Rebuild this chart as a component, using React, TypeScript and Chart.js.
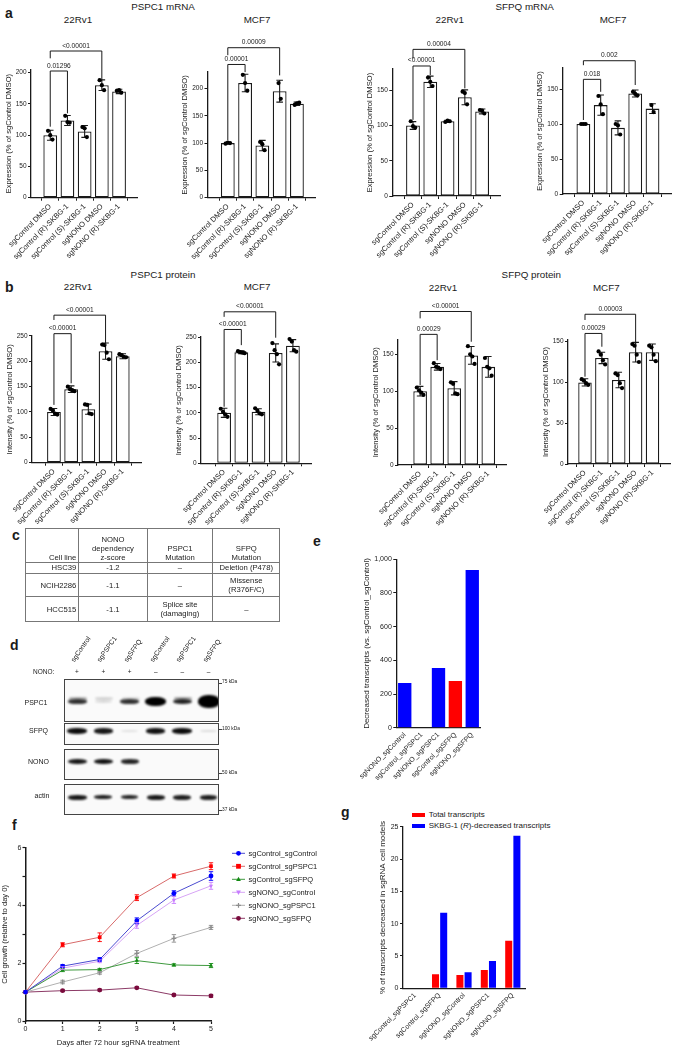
import React, { useEffect, useRef } from 'react';
import { Chart, registerables } from 'chart.js';

Chart.register(...registerables);

const FONT = '"Liberation Sans", Arial, Helvetica, sans-serif';
Chart.defaults.font.family = FONT;
Chart.defaults.color = '#1a1a1a';
const INK = '#1a1a1a';

/* ================= DATA ================= */
const treatmentLabels = ['sgControl DMSO', 'sgControl (R)-SKBG-1', 'sgControl (S)-SKBG-1', 'sgNONO DMSO', 'sgNONO (R)-SKBG-1'];

const ticks0to200 = [0, 50, 100, 150, 200];
const ticks0to250 = [0, 50, 100, 150, 200, 250];
const ticks0to150 = [0, 50, 100, 150];

// a: PSPC1 mRNA 22Rv1
const aPspc1Rv1Mean = [100, 123.5, 106, 180, 170];
const aPspc1Rv1Sd = [8, 8, 9.5, 8.5, 3.5];
const aPspc1Rv1Points = [[107, 100, 93], [131, 121, 120], [113, 111, 97], [188, 180, 172], [171, 172, 168]];
const aPspc1Rv1P = [
  { from: 0, to: 3, at: 234.7, legFrom: 223, legTo: 188, text: '<0.00001' },
  { from: 0, to: 1, at: 202.7, legFrom: 113.6, legTo: 135, text: '0.01296' },
];
// a: PSPC1 mRNA MCF7
const aPspc1McfMean = [100, 210, 95.5, 195, 172];
const aPspc1McfSd = [1.5, 16, 9.5, 20, 3];
const aPspc1McfPoints = [[99, 101, 100], [225, 210, 196], [102, 98, 87], [210, 181], [170, 173, 174]];
const aPspc1McfP = [
  { from: 0, to: 3, at: 274.7, legFrom: 261, legTo: 224, text: '0.00009' },
  { from: 0, to: 1, at: 244, legFrom: 105, legTo: 230, text: '0.00001' },
];
// a: SFPQ mRNA 22Rv1
const aSfpqRv1Mean = [100, 162, 106, 140, 120];
const aSfpqRv1Sd = [5.5, 8, 1.5, 10.5, 3.5];
const aSfpqRv1Points = [[106, 99, 97], [168, 162, 156], [105, 107, 106], [148, 146, 130], [122, 121, 117]];
const aSfpqRv1P = [
  { from: 0, to: 3, at: 208, legFrom: 195, legTo: 152.7, text: '0.00004' },
  { from: 0, to: 1, at: 184.4, legFrom: 108, legTo: 171.6, text: '<0.00001' },
];
// a: SFPQ mRNA MCF7
const aSfpqMcfMean = [100, 127, 94.5, 143.5, 122];
const aSfpqMcfSd = [1, 14.5, 10, 5, 7];
const aSfpqMcfPoints = [[100, 100, 100], [140, 128, 114], [100, 98, 85], [146, 143, 141], [127, 117]];
const aSfpqMcfP = [
  { from: 0, to: 3, at: 190.4, legFrom: 184, legTo: 155.7, text: '0.002' },
  { from: 0, to: 1, at: 163.8, legFrom: 105.7, legTo: 146, text: '0.018' },
];
// b: PSPC1 protein 22Rv1
const bPspc1Rv1Mean = [100, 145, 105.5, 220, 210];
const bPspc1Rv1Sd = [7, 6.5, 10, 16, 5];
const bPspc1Rv1Points = [[106, 103, 97, 95], [150, 145, 143, 141], [115, 114, 97, 96], [233, 232, 217, 204], [214, 212, 209, 208]];
const bPspc1Rv1P = [
  { from: 0, to: 3, at: 291, legFrom: 281.5, legTo: 232, text: '<0.00001' },
  { from: 0, to: 1, at: 254.5, legFrom: 114, legTo: 156.6, text: '<0.00001' },
];
// b: PSPC1 protein MCF7
const bPspc1McfMean = [100, 220, 102, 218.5, 233];
const bPspc1McfSd = [9, 3, 6, 18, 12];
const bPspc1McfPoints = [[108, 102, 97, 92], [222, 220, 219, 218], [109, 104, 99, 97], [238, 224, 216, 196], [246, 241, 224, 221]];
const bPspc1McfP = [
  { from: 0, to: 3, at: 300, legFrom: 290, legTo: 248.7, text: '<0.00001' },
  { from: 0, to: 1, at: 265, legFrom: 112, legTo: 234, text: '<0.00001' },
];
// b: SFPQ protein 22Rv1
const bSfpqRv1Mean = [100, 133, 104, 148.5, 133];
const bSfpqRv1Sd = [6.5, 4.5, 9, 12, 14];
const bSfpqRv1Points = [[105, 101, 98, 95], [138, 133, 132, 130], [112, 110, 97, 96], [161, 150, 147, 137], [145, 133, 131, 121]];
const bSfpqRv1P = [
  { from: 0, to: 3, at: 208, legFrom: 198.7, legTo: 167, text: '<0.00001' },
  { from: 0, to: 1, at: 177, legFrom: 108.4, legTo: 142, text: '0.00029' },
];
// b: SFPQ protein MCF7
const bSfpqMcfMean = [100, 130, 103, 137, 137];
const bSfpqMcfSd = [4.5, 7, 9.5, 12, 10];
const bSfpqMcfPoints = [[104, 102, 99, 97], [138, 134, 127, 122], [111, 109, 99, 93], [147, 145, 134, 125], [145, 143, 134, 126]];
const bSfpqMcfP = [
  { from: 0, to: 3, at: 183.5, legFrom: 176.5, legTo: 146, text: '0.00003' },
  { from: 0, to: 1, at: 160, legFrom: 107, legTo: 143.7, text: '0.00029' },
];

// c: table
const tableHeader = ['Cell line', 'NONO\ndependency\nz-score', 'PSPC1\nMutation', 'SFPQ\nMutation'];
const tableCellLines = ['HSC39', 'NCIH2286', 'HCC515'];
const tableZScores = ['-1.2', '-1.1', '-1.1'];
const tablePspc1 = ['–', '–', 'Splice site\n(damaging)'];
const tableSfpq = ['Deletion  (P478)', 'Missense\n(R376F/C)', '–'];

// d: blot
const blotLaneNames = ['sgControl', 'sgPSPC1', 'sgSFPQ', 'sgControl', 'sgPSPC1', 'sgSFPQ'];
const blotNono = ['+', '+', '+', '–', '–', '–'];
const blotRowNames = ['PSPC1', 'SFPQ', 'NONO', 'actin'];
const bandPSPC1 = [0.8, 0.12, 0.8, 1, 0.85, 1];
const bandPSPC1Upper = [0.3, 0.15, 0.12, 0, 0.35, 0];
const bandSFPQ = [0.95, 0.9, 0.1, 0.92, 0.95, 0.12];
const bandNONO = [0.9, 0.92, 0.85, 0, 0, 0];
const bandActin = [0.9, 0.88, 0.85, 0.9, 0.88, 0.88];
const kdaMarkers = ['75 kDa', '100 kDa', '50 kDa', '37 kDa'];

// e
const eLabels = ['sgNONO_sgControl', 'sgControl_sgPSPC1', 'sgNONO_sgPSPC1', 'sgControl_sgSFPQ', 'sgNONO_sgSFPQ'];
const eValues = [265, 0, 355, 277, 936];
const eColors = ['#0000ff', '#ff0000', '#0000ff', '#ff0000', '#0000ff'];
const eTicks = [0, 200, 400, 600, 800, 1000];

// f
const growthDays = [0, 1, 2, 3, 4, 5];
const growthYTicks = [0, 1, 2, 3, 4, 5, 6];
const growthNames = ['sgControl_sgControl', 'sgControl_sgPSPC1', 'sgControl_sgSFPQ', 'sgNONO_sgControl', 'sgNONO_sgPSPC1', 'sgNONO_sgSFPQ'];
const growthCtrlCtrl = [1, 1.9, 2.13, 3.47, 4.42, 5.02];
const growthCtrlPspc1 = [1, 2.64, 2.9, 4.27, 5.02, 5.36];
const growthCtrlSfpq = [1, 1.76, 1.78, 2.09, 1.94, 1.92];
const growthNonoCtrl = [1, 1.83, 2.07, 3.31, 4.19, 4.68];
const growthNonoPspc1 = [1, 1.35, 1.67, 2.34, 2.86, 3.24];
const growthNonoSfpq = [1, 1.05, 1.07, 1.15, 0.9, 0.87];
const growthCtrlCtrlErr = [0, 0.05, 0.06, 0.1, 0.09, 0.15];
const growthCtrlPspc1Err = [0, 0.07, 0.15, 0.1, 0.07, 0.12];
const growthCtrlSfpqErr = [0, 0.05, 0.04, 0.1, 0.04, 0.07];
const growthNonoCtrlErr = [0, 0.05, 0.05, 0.1, 0.12, 0.12];
const growthNonoPspc1Err = [0, 0.06, 0.05, 0.1, 0.13, 0.07];
const growthNonoSfpqErr = [0, 0.03, 0.03, 0.03, 0.03, 0.05];

// g
const gLabels = ['sgControl_sgPSPC1', 'sgControl_sgSFPQ', 'sgNONO_sgControl', 'sgNONO_sgPSPC1', 'sgNONO_sgSFPQ'];
const gTotal = [0, 2.17, 2.06, 2.84, 7.38];
const gSkbg = [0, 11.7, 2.48, 4.23, 23.6];
const gTicks = [0, 5, 10, 15, 20, 25];

/* ================= LAYOUT / STYLE ================= */
const LAY: any = {
  a1: { axisX: 31, y0: 197.7, ppu: 0.625, max: 205, xMin: -0.5, sp: 21.5, top: 28, bottom: 272 },
  a2: { axisX: 207.5, y0: 197.7, ppu: 0.546, max: 230, xMin: -0.55, sp: 21.6, top: 28, bottom: 272 },
  a3: { axisX: 392.3, y0: 196, ppu: 0.705, max: 180, xMin: -0.57, sp: 21.6, top: 28, bottom: 272 },
  a4: { axisX: 562.7, y0: 194, ppu: 0.7, max: 180, xMin: -0.57, sp: 21.6, top: 28, bottom: 272 },
  b1: { axisX: 32, y0: 462.7, ppu: 0.507, max: 250, xMin: -0.64, sp: 21.5, top: 293, bottom: 532 },
  b2: { axisX: 201, y0: 463.3, ppu: 0.505, max: 250, xMin: -0.7, sp: 21.5, top: 293, bottom: 532 },
  b3: { axisX: 398, y0: 465, ppu: 0.738, max: 170, xMin: -0.66, sp: 21.3, top: 293, bottom: 532 },
  b4: { axisX: 568, y0: 464, ppu: 0.816, max: 152, xMin: -0.4, sp: 21.1, top: 293, bottom: 532 },
};

const growthStyles = [
  { line: '#4b4bd0', mark: '#0000ff', shape: 'circle', rot: 0 },
  { line: '#d86a6a', mark: '#ff0000', shape: 'rect', rot: 0 },
  { line: '#3f9a3f', mark: '#138a13', shape: 'triangle', rot: 0 },
  { line: '#d7a4f5', mark: '#c77dff', shape: 'triangle', rot: 180 },
  { line: '#b0b0b0', mark: '#8c8c8c', shape: 'cross', rot: 0 },
  { line: '#8c3a66', mark: '#7a0b3d', shape: 'circle', rot: 0 },
];

/* ================= HELPERS ================= */
function T({ x, y, size = 10, bold = false, align = 'left', color = INK, children }: any) {
  const shift = align === 'center' ? '-50%' : align === 'right' ? '-100%' : '0';
  return (
    <div
      style={{
        position: 'absolute', left: x, top: y - 0.8465 * size, fontSize: size, lineHeight: `${size}px`,
        fontWeight: bold ? 'bold' : 'normal', whiteSpace: 'nowrap', transform: `translateX(${shift})`, color,
      }}
    >
      {children}
    </div>
  );
}

function fixX(h: number) {
  return (s: any) => { s.height = h; s.paddingLeft = 0; s.paddingRight = 0; s.paddingTop = 0; s.paddingBottom = 0; };
}
function fixY(w: number) {
  return (s: any) => { s.width = w; s.paddingLeft = 0; s.paddingRight = 0; s.paddingTop = 0; s.paddingBottom = 0; };
}

function errorBarPlugin(means: number[], sds: number[]) {
  return {
    id: 'errbars',
    afterDatasetDraw(chart: any, args: any) {
      if (args.meta.type !== 'bar') return;
      const { ctx } = chart; const x = chart.scales.x; const y = chart.scales.y;
      ctx.save(); ctx.strokeStyle = INK; ctx.lineWidth = 1.1;
      means.forEach((m, i) => {
        const px = x.getPixelForValue(i);
        const t = y.getPixelForValue(m + sds[i]); const b = y.getPixelForValue(m - sds[i]);
        ctx.beginPath();
        ctx.moveTo(px, t); ctx.lineTo(px, b);
        ctx.moveTo(px - 3.3, t); ctx.lineTo(px + 3.3, t);
        ctx.moveTo(px - 3.3, b); ctx.lineTo(px + 3.3, b);
        ctx.stroke();
      });
      ctx.restore();
    },
  };
}

function bracketPlugin(brs: any[]) {
  return {
    id: 'brackets',
    afterDraw(chart: any) {
      const { ctx } = chart; const x = chart.scales.x; const y = chart.scales.y;
      ctx.save();
      ctx.strokeStyle = INK; ctx.lineWidth = 1; ctx.fillStyle = INK;
      ctx.font = `6.6px ${FONT}`; ctx.textAlign = 'center'; ctx.textBaseline = 'alphabetic';
      brs.forEach((b) => {
        const x1 = x.getPixelForValue(b.from); const x2 = x.getPixelForValue(b.to); const yy = y.getPixelForValue(b.at);
        ctx.beginPath();
        ctx.moveTo(x1, y.getPixelForValue(b.legFrom)); ctx.lineTo(x1, yy); ctx.lineTo(x2, yy); ctx.lineTo(x2, y.getPixelForValue(b.legTo));
        ctx.stroke();
        ctx.fillText(b.text, (x1 + x2) / 2, yy - 3.5);
      });
      ctx.restore();
    },
  };
}

function PrismBars({ mean, sd, points, brackets, ticks, yTitle, box }: any) {
  const ref = useRef<HTMLCanvasElement>(null);
  const XMAX = 4.45;
  const left = Math.floor(box.axisX - 31);
  const yw = box.axisX - left;
  const chartRight = box.axisX + (XMAX - box.xMin) * box.sp;
  const width = Math.ceil(chartRight + 6 - left);
  const height = box.bottom - box.top;
  const topPx = box.y0 - box.max * box.ppu;
  useEffect(() => {
    const barData = mean.map((m: number, i: number) => ({ x: i, y: m }));
    const ptData: any[] = [];
    points.forEach((arr: number[], i: number) =>
      arr.forEach((v, j) => ptData.push({ x: i + (j - (arr.length - 1) / 2) * 0.13, y: v })));
    const chart = new Chart(ref.current as HTMLCanvasElement, {
      type: 'bar',
      data: {
        datasets: [
          { type: 'bar', data: barData, backgroundColor: '#fff', borderColor: INK, borderWidth: 1.3, borderSkipped: false, barPercentage: 0.8, categoryPercentage: 1, order: 2 } as any,
          { type: 'scatter', data: ptData, backgroundColor: '#000', borderColor: '#000', pointRadius: 2.1, borderWidth: 0, order: 1, clip: false } as any,
        ],
      },
      options: {
        responsive: false, animation: false, events: [],
        layout: { padding: { left: 0, top: topPx - box.top, right: width - (chartRight - left), bottom: 0 } },
        plugins: { legend: { display: false }, tooltip: { enabled: false } },
        scales: {
          x: {
            type: 'linear', min: box.xMin, max: XMAX,
            afterBuildTicks: (s: any) => { s.ticks = mean.map((_: any, i: number) => ({ value: i })); },
            afterFit: fixX(box.bottom - box.y0),
            grid: { drawOnChartArea: false, tickLength: 3, color: INK, tickWidth: 1 },
            border: { color: INK, width: 1.3 },
            ticks: { autoSkip: false, minRotation: 45, maxRotation: 45, padding: 1.5, font: { size: 7.5 }, callback: (v: any) => treatmentLabels[v] ?? '' },
          },
          y: {
            min: 0, max: box.max,
            afterBuildTicks: (s: any) => { s.ticks = ticks.map((v: number) => ({ value: v })); },
            afterFit: fixY(yw),
            grid: { drawOnChartArea: false, tickLength: 3, color: INK, tickWidth: 1 },
            border: { color: INK, width: 1.3 },
            ticks: { padding: 1.5, font: { size: 6.5 } },
            title: { display: true, text: yTitle, font: { size: 7.6 }, padding: { top: 4.8, bottom: 0 } },
          },
        },
      } as any,
      plugins: [errorBarPlugin(mean, sd), bracketPlugin(brackets)],
    });
    return () => chart.destroy();
  }, []);
  return <canvas ref={ref} width={width} height={height} style={{ position: 'absolute', left, top: box.top }} />;
}

function CategoryBars({ labels, sets, ticks, yTitle, box }: any) {
  const ref = useRef<HTMLCanvasElement>(null);
  const left = Math.floor(box.axisX - box.yw);
  const yw = box.axisX - left;
  const width = Math.ceil(box.right + 10 - left);
  const height = box.bottom - box.top;
  const topPx = box.y0 - box.max * box.ppu;
  useEffect(() => {
    const chart = new Chart(ref.current as HTMLCanvasElement, {
      type: 'bar',
      data: {
        labels,
        datasets: sets.map((s: any) => ({
          data: s.data, backgroundColor: s.color, borderWidth: 0,
          barPercentage: box.barPct, categoryPercentage: box.catPct,
        })),
      },
      options: {
        responsive: false, animation: false, events: [],
        layout: { padding: { left: 0, top: topPx - box.top, right: width - (box.right - left), bottom: 0 } },
        plugins: { legend: { display: false }, tooltip: { enabled: false } },
        scales: {
          x: {
            afterFit: fixX(box.bottom - box.y0),
            grid: { display: false, drawOnChartArea: false, drawTicks: false },
            border: { color: INK, width: 1.3 },
            ticks: { autoSkip: false, minRotation: 45, maxRotation: 45, padding: 3, font: { size: 7 } },
          },
          y: {
            min: 0, max: box.max,
            afterBuildTicks: (s: any) => { s.ticks = ticks.map((v: number) => ({ value: v })); },
            afterFit: fixY(yw),
            grid: { drawOnChartArea: false, tickLength: 3, color: INK, tickWidth: 1 },
            border: { color: INK, width: 1.3 },
            ticks: { padding: 1.5, font: { size: 7 } },
            title: { display: true, text: yTitle, font: { size: 8 }, padding: { top: box.titlePad, bottom: 0 } },
          },
        },
      } as any,
    });
    return () => chart.destroy();
  }, []);
  return <canvas ref={ref} width={width} height={height} style={{ position: 'absolute', left, top: box.top }} />;
}

function drawMarker(ctx: any, shape: string, x: number, y: number, r: number, rot: number, color: string) {
  ctx.save();
  ctx.translate(x, y);
  ctx.rotate((rot * Math.PI) / 180);
  ctx.fillStyle = color; ctx.strokeStyle = color; ctx.lineWidth = 1.2;
  ctx.beginPath();
  if (shape === 'circle') { ctx.arc(0, 0, r, 0, Math.PI * 2); ctx.fill(); }
  else if (shape === 'rect') { ctx.fillRect(-r, -r, 2 * r, 2 * r); }
  else if (shape === 'triangle') { ctx.moveTo(0, -r * 1.1); ctx.lineTo(-r, r * 0.7); ctx.lineTo(r, r * 0.7); ctx.closePath(); ctx.fill(); }
  else { ctx.moveTo(-r, 0); ctx.lineTo(r, 0); ctx.moveTo(0, -r); ctx.lineTo(0, r); ctx.stroke(); }
  ctx.restore();
}

function GrowthChart() {
  const ref = useRef<HTMLCanvasElement>(null);
  const left = 0, top = 835, width = 330, height = 215;
  const axisX = 25.5, y0 = 1021, yTop = 847.7, xRight = 211;
  useEffect(() => {
    const series = [growthCtrlCtrl, growthCtrlPspc1, growthCtrlSfpq, growthNonoCtrl, growthNonoPspc1, growthNonoSfpq];
    const errs = [growthCtrlCtrlErr, growthCtrlPspc1Err, growthCtrlSfpqErr, growthNonoCtrlErr, growthNonoPspc1Err, growthNonoSfpqErr];
    const chart = new Chart(ref.current as HTMLCanvasElement, {
      type: 'line',
      data: {
        datasets: series.map((vals, k) => {
          const st = growthStyles[k];
          return {
            label: growthNames[k],
            data: growthDays.map((d, i) => ({ x: d, y: vals[i] })),
            borderColor: st.line, borderWidth: 1, tension: 0, clip: false,
            pointStyle: st.shape, pointRotation: st.rot, pointRadius: st.shape === 'rect' ? 2.6 : 2.4,
            pointBackgroundColor: st.mark, pointBorderColor: st.mark, pointBorderWidth: st.shape === 'cross' ? 1.2 : 0,
          };
        }),
      },
      options: {
        responsive: false, animation: false, events: [],
        layout: { padding: { left: 0, top: yTop - top, right: width - (xRight - left), bottom: 0 } },
        plugins: { legend: { display: false }, tooltip: { enabled: false } },
        scales: {
          x: {
            type: 'linear', min: 0, max: 5,
            afterBuildTicks: (s: any) => { s.ticks = growthDays.map((v) => ({ value: v })); },
            afterFit: fixX(top + height - y0),
            grid: { drawOnChartArea: false, tickLength: 3, color: INK, tickWidth: 1.2 },
            border: { color: INK, width: 1.5 },
            ticks: { padding: 1, font: { size: 7 }, maxRotation: 0 },
            title: { display: true, text: 'Days after 72 hour sgRNA treatment', font: { size: 7.6 }, padding: { top: 0, bottom: 2.8 } },
          },
          y: {
            min: 0, max: 6,
            afterBuildTicks: (s: any) => { s.ticks = growthYTicks.map((v) => ({ value: v })); },
            afterFit: fixY(axisX - left),
            grid: { drawOnChartArea: false, tickLength: 3, color: INK, tickWidth: 1.2 },
            border: { color: INK, width: 1.5 },
            ticks: { padding: 1, font: { size: 7 }, callback: (v: any) => (v % 2 === 0 ? String(v) : '') },
            title: { display: true, text: 'Cell growth (relative to day 0)', font: { size: 7.6 }, padding: { top: 0.5, bottom: 0 } },
          },
        },
      } as any,
      plugins: [
        {
          id: 'growthErr',
          afterDatasetsDraw(c: any) {
            const { ctx } = c; const x = c.scales.x; const y = c.scales.y;
            ctx.save(); ctx.lineWidth = 0.9;
            series.forEach((vals, k) => {
              ctx.strokeStyle = growthStyles[k].mark;
              vals.forEach((v, i) => {
                const e = errs[k][i]; if (!e) return;
                const px = x.getPixelForValue(growthDays[i]);
                const t = y.getPixelForValue(v + e); const b = y.getPixelForValue(v - e);
                ctx.beginPath();
                ctx.moveTo(px, t); ctx.lineTo(px, b);
                ctx.moveTo(px - 2.2, t); ctx.lineTo(px + 2.2, t);
                ctx.moveTo(px - 2.2, b); ctx.lineTo(px + 2.2, b);
                ctx.stroke();
              });
            });
            ctx.restore();
          },
          afterDraw(c: any) {
            const { ctx } = c;
            ctx.save();
            ctx.font = `7.5px ${FONT}`; ctx.textBaseline = 'middle'; ctx.textAlign = 'left';
            growthNames.forEach((name, k) => {
              const st = growthStyles[k];
              const yy = 853.3 - top + k * 13;
              ctx.strokeStyle = st.line; ctx.lineWidth = 1;
              ctx.beginPath(); ctx.moveTo(232, yy); ctx.lineTo(245, yy); ctx.stroke();
              drawMarker(ctx, st.shape, 238.5, yy, 2.4, st.rot, st.mark);
              ctx.fillStyle = INK;
              ctx.fillText(name, 248.5, yy + 0.5);
            });
            ctx.restore();
          },
        },
      ],
    });
    return () => chart.destroy();
  }, []);
  return <canvas ref={ref} width={width} height={height} style={{ position: 'absolute', left, top }} />;
}

function Blot() {
  const boxL = 63.5, boxW = 155.5;
  const laneX = (i: number) => boxL + 13.5 + i * 26.3;
  const rows = [
    { top: 679, h: 43, bandY: 22.5, heights: [4.5, 3, 4.5, 9, 5.5, 13], widths: [19, 17, 19, 21, 19, 22], data: bandPSPC1, labelX: 36, labelY: 705.2 },
    { top: 723, h: 22, bandY: 8, heights: [6, 5.5, 2.5, 5.5, 6, 2.5], widths: [20, 19, 17, 19, 20, 17], data: bandSFPQ, labelX: 38.5, labelY: 732.5 },
    { top: 749, h: 31, bandY: 12.5, heights: [5, 5, 4.5, 0, 0, 0], widths: [19, 19, 18, 0, 0, 0], data: bandNONO, labelX: 38.5, labelY: 764.2 },
    { top: 784, h: 31, bandY: 13.3, heights: [4.5, 4, 4, 4.5, 4.5, 4.5], widths: [19, 18, 17, 18, 18, 17], data: bandActin, labelX: 42, labelY: 798 },
  ];
  const kdaY = [682.7, 729.3, 773.3, 810];
  return (
    <>
      {blotLaneNames.map((n, i) => (
        <div key={'ln' + i} style={{ position: 'absolute', left: laneX(i) - 2, top: 663 - 7, fontSize: 6.8, lineHeight: '7px', transformOrigin: '0 100%', transform: 'rotate(-55deg)', whiteSpace: 'nowrap', color: INK }}>{n}</div>
      ))}
      <T x={33} y={675} size={6.5}>NONO:</T>
      {blotNono.map((s, i) => <T key={'nn' + i} x={laneX(i)} y={675} size={6.5} align="center">{s}</T>)}
      {rows.map((r, ri) => (
        <React.Fragment key={'row' + ri}>
          <T x={r.labelX} y={r.labelY} size={7} align="center">{blotRowNames[ri]}</T>
          <div style={{ position: 'absolute', left: boxL, top: r.top, width: boxW, height: r.h, border: '1px solid #444', background: '#fafafa', boxSizing: 'border-box', overflow: 'hidden' }}>
            {ri === 0 && bandPSPC1Upper.map((v, i) => v > 0 ? (
              <div key={'u' + i} style={{ position: 'absolute', left: laneX(i) - boxL - 9, top: r.bandY - 5.5, width: 18, height: 2.5, background: '#000', opacity: v, borderRadius: '45%', filter: 'blur(0.8px)' }} />
            ) : null)}
            {r.data.map((v, i) => (v > 0 && r.heights[i] > 0 ? (
              <div key={'b' + i} style={{ position: 'absolute', left: laneX(i) - boxL - r.widths[i] / 2 - 1, top: r.bandY - r.heights[i] / 2 - 1, width: r.widths[i], height: r.heights[i], background: '#000', opacity: v, borderRadius: '45%', filter: 'blur(1px)' }} />
            ) : null))}
          </div>
        </React.Fragment>
      ))}
      {kdaMarkers.map((k, i) => (
        <React.Fragment key={'k' + i}>
          <div style={{ position: 'absolute', left: boxL + boxW, top: kdaY[i], width: 2.5, height: 0.7, background: '#444' }} />
          <T x={boxL + boxW + 3} y={kdaY[i] + 1.7} size={4.8}>{k}</T>
        </React.Fragment>
      ))}
    </>
  );
}

function Table() {
  const colW = [53.3, 68.4, 65.6, 67];
  const rowH = [34, 11.6, 23.4, 25];
  const cell = (content: string, align: string, valign: string, key: string) => (
    <td key={key} style={{ border: '1px solid #777', padding: '0 2px', textAlign: align as any, verticalAlign: valign, whiteSpace: 'pre-line' }}>{content}</td>
  );
  const rows = tableCellLines.map((c, i) => [c, tableZScores[i], tablePspc1[i], tableSfpq[i]]);
  return (
    <table style={{ position: 'absolute', left: 25, top: 527.5, borderCollapse: 'collapse', tableLayout: 'fixed', width: 254.3, fontSize: 7.7, lineHeight: '9px', color: '#222' }}>
      <colgroup>{colW.map((w, i) => <col key={i} style={{ width: w }} />)}</colgroup>
      <tbody>
        <tr style={{ height: rowH[0] }}>
          {tableHeader.map((h, i) => cell(h, i === 0 ? 'right' : 'center', 'bottom', 'h' + i))}
        </tr>
        {rows.map((r, ri) => (
          <tr key={'r' + ri} style={{ height: rowH[ri + 1] }}>
            {r.map((v, i) => cell(v, i === 0 ? 'right' : 'center', 'middle', 'c' + ri + i))}
          </tr>
        ))}
      </tbody>
    </table>
  );
}

const letters = [
  { t: 'a', x: 5, y: 18 }, { t: 'b', x: 5, y: 292 }, { t: 'c', x: 12, y: 540 }, { t: 'd', x: 10, y: 650 },
  { t: 'e', x: 313, y: 546 }, { t: 'f', x: 12, y: 830 }, { t: 'g', x: 341, y: 817 },
];
const groupTitles = [
  { text: 'PSPC1 mRNA', x: 163, y: 10.6 }, { text: 'SFPQ mRNA', x: 524.7, y: 10.6 },
  { text: 'PSPC1 protein', x: 163, y: 278.6 }, { text: 'SFPQ protein', x: 531.3, y: 278.6 },
];
const cellTitles = [
  { text: '22Rv1', x: 78, y: 23.6 }, { text: 'MCF7', x: 257, y: 23.6 }, { text: '22Rv1', x: 449.7, y: 23.6 }, { text: 'MCF7', x: 613, y: 23.6 },
  { text: '22Rv1', x: 78, y: 290.3 }, { text: 'MCF7', x: 257, y: 290.3 }, { text: '22Rv1', x: 443, y: 291.3 }, { text: 'MCF7', x: 606.3, y: 291.3 },
];

export default function App() {
  const exprTitle = 'Expression (% of sgControl DMSO)';
  const intTitle = 'Intensity (% of sgControl DMSO)';
  return (
    <div style={{ position: 'absolute', left: 0, top: 0, width: 678, height: 1050, background: '#fff', fontFamily: FONT, color: INK, overflow: 'hidden' }}>
      {letters.map((l) => <T key={l.t} x={l.x} y={l.y} size={14} bold>{l.t}</T>)}
      {groupTitles.map((g, i) => <T key={'g' + i} x={g.x} y={g.y} size={9.8} align="center">{g.text}</T>)}
      {cellTitles.map((g, i) => <T key={'c' + i} x={g.x} y={g.y} size={9.8} align="center">{g.text}</T>)}

      <PrismBars mean={aPspc1Rv1Mean} sd={aPspc1Rv1Sd} points={aPspc1Rv1Points} brackets={aPspc1Rv1P} ticks={ticks0to200} yTitle={exprTitle} box={LAY.a1} />
      <PrismBars mean={aPspc1McfMean} sd={aPspc1McfSd} points={aPspc1McfPoints} brackets={aPspc1McfP} ticks={ticks0to200} yTitle={exprTitle} box={LAY.a2} />
      <PrismBars mean={aSfpqRv1Mean} sd={aSfpqRv1Sd} points={aSfpqRv1Points} brackets={aSfpqRv1P} ticks={ticks0to150} yTitle={exprTitle} box={LAY.a3} />
      <PrismBars mean={aSfpqMcfMean} sd={aSfpqMcfSd} points={aSfpqMcfPoints} brackets={aSfpqMcfP} ticks={ticks0to150} yTitle={exprTitle} box={LAY.a4} />
      <PrismBars mean={bPspc1Rv1Mean} sd={bPspc1Rv1Sd} points={bPspc1Rv1Points} brackets={bPspc1Rv1P} ticks={ticks0to250} yTitle={intTitle} box={LAY.b1} />
      <PrismBars mean={bPspc1McfMean} sd={bPspc1McfSd} points={bPspc1McfPoints} brackets={bPspc1McfP} ticks={ticks0to250} yTitle={intTitle} box={LAY.b2} />
      <PrismBars mean={bSfpqRv1Mean} sd={bSfpqRv1Sd} points={bSfpqRv1Points} brackets={bSfpqRv1P} ticks={ticks0to150} yTitle={intTitle} box={LAY.b3} />
      <PrismBars mean={bSfpqMcfMean} sd={bSfpqMcfSd} points={bSfpqMcfPoints} brackets={bSfpqMcfP} ticks={ticks0to150} yTitle={intTitle} box={LAY.b4} />

      <Table />
      <Blot />

      <CategoryBars
        labels={eLabels}
        sets={[{ data: eValues, color: eColors }]}
        ticks={eTicks}
        yTitle="Decreased transcripts (vs. sgControl_sgControl)"
        box={{ axisX: 396.3, yw: 42, titlePad: 7.5, y0: 727.7, ppu: 0.1684, max: 1000, right: 480.7, top: 545, bottom: 790, barPct: 0.79, catPct: 1 }}
      />

      <GrowthChart />

      <div style={{ position: 'absolute', left: 412, top: 812.7, width: 13.3, height: 4.6, background: '#ff0000' }} />
      <T x={428.7} y={817.8} size={8}>Total transcripts</T>
      <div style={{ position: 'absolute', left: 412, top: 823.7, width: 13.3, height: 4.6, background: '#0000ff' }} />
      <T x={428.7} y={828.8} size={8}>SKBG-1 (<i>R</i>)-decreased transcripts</T>
      <CategoryBars
        labels={gLabels}
        sets={[{ data: gTotal, color: '#ff0000' }, { data: gSkbg, color: '#0000ff' }]}
        ticks={gTicks}
        yTitle="% of transcripts decreased in sgRNA cell models"
        box={{ axisX: 403, yw: 48, titlePad: 23.2, y0: 988.3, ppu: 6.46, max: 25, right: 525, top: 820, bottom: 1050, barPct: 0.86, catPct: 0.67 }}
      />
    </div>
  );
}
